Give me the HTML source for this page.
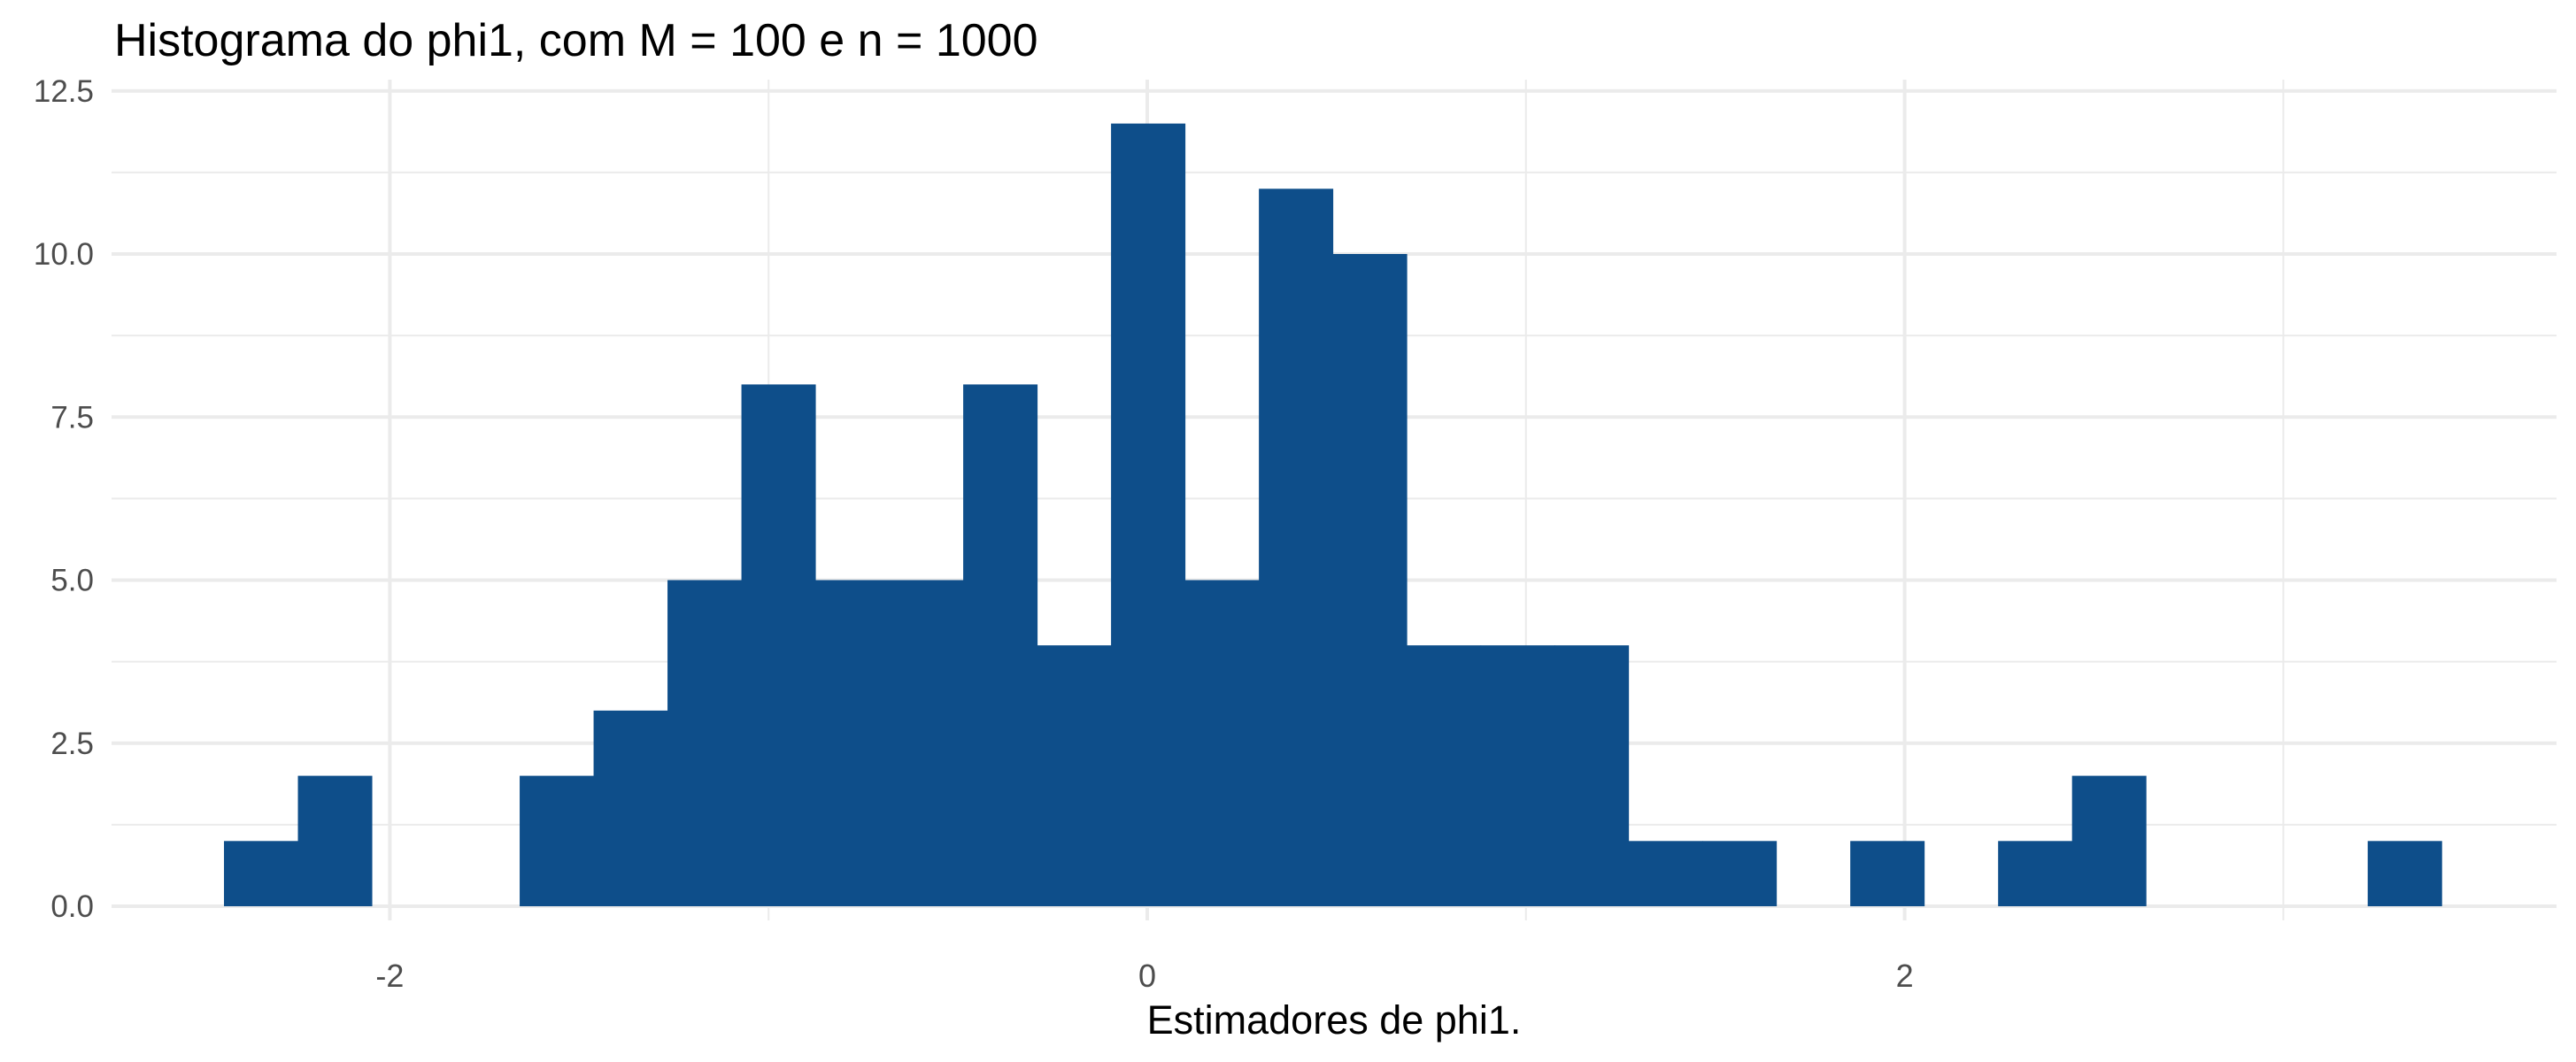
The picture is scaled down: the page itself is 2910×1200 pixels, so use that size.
<!DOCTYPE html>
<html><head><meta charset="utf-8"><style>
html,body{margin:0;padding:0;background:#fff;}
svg{display:block;font-family:"Liberation Sans",Arial,sans-serif;}
</style></head><body>
<svg id="chart" width="2910" height="1200" viewBox="0 0 2910 1200">
<text x="129" y="63" font-size="52" fill="#000">Histograma do phi1, com M = 100 e n = 1000</text>
<g id="grid"></g>
<g id="bars"></g>
<g id="yticks"></g>
<g id="xticks"></g>
<text x="1507" y="1168" font-size="45" text-anchor="middle" fill="#000">Estimadores de phi1.</text>
</svg>
<script>
const binStart = -2.438;
const binWidth = 0.1952;
const counts = [1,2,0,0,2,3,5,8,5,5,8,4,12,5,11,10,4,4,4,1,1,0,1,0,1,2,0,0,0,1];
const yTicks = [0, 2.5, 5, 7.5, 10, 12.5];
const yTickLabels = ["0.0","2.5","5.0","7.5","10.0","12.5"];
const xTicks = [-2, 0, 2];
const xTickLabels = ["-2","0","2"];
const xMinor = [-1, 1, 3];
const yMinor = [1.25, 3.75, 6.25, 8.75, 11.25];

const NS = "http://www.w3.org/2000/svg";
const L = 126, R = 2888, T = 90, B = 1040;
function xs(v){ return 1296 + v * 427.8; }
function ys(v){ return 1024 - v * 73.7; }
function mk(tag, attrs, parent){
  const e = document.createElementNS(NS, tag);
  for (const k in attrs) e.setAttribute(k, attrs[k]);
  parent.appendChild(e); return e;
}
const grid = document.getElementById('grid');
yMinor.forEach(v => {
  const l = mk('line', {x1:L, x2:R, y1:ys(v), y2:ys(v), stroke:'#ebebeb', 'stroke-width':2}, grid);
  
  
});
xMinor.forEach(v => {
  const l = mk('line', {x1:xs(v), x2:xs(v), y1:T, y2:B, stroke:'#ebebeb', 'stroke-width':2}, grid);
  
  
});
yTicks.forEach(v => {
  const l = mk('line', {x1:L, x2:R, y1:ys(v), y2:ys(v), stroke:'#ebebeb', 'stroke-width':4}, grid);
  
  
});
xTicks.forEach(v => {
  const l = mk('line', {x1:xs(v), x2:xs(v), y1:T, y2:B, stroke:'#ebebeb', 'stroke-width':4}, grid);
  
  
});
const bars = document.getElementById('bars');
counts.forEach((c, i) => {
  if (c <= 0) return;
  const x0 = xs(binStart + i * binWidth), x1 = xs(binStart + (i + 1) * binWidth);
  const r = mk('rect', {x:x0, y:ys(c), width:x1 - x0 + 0.5, height:ys(0) - ys(c), fill:'#0e4e8a'}, bars);
  
  
});
const yt = document.getElementById('yticks');
yTicks.forEach((v, i) => {
  const t = mk('text', {x:106, y:ys(v) + 12, 'font-size':35, 'text-anchor':'end', fill:'#4d4d4d'}, yt);
  t.textContent = yTickLabels[i];
  
  
});
const xt = document.getElementById('xticks');
xTicks.forEach((v, i) => {
  const t = mk('text', {x:xs(v), y:1115, 'font-size':36, 'text-anchor':'middle', fill:'#4d4d4d'}, xt);
  t.textContent = xTickLabels[i];
  
  
});
</script>
</body></html>
